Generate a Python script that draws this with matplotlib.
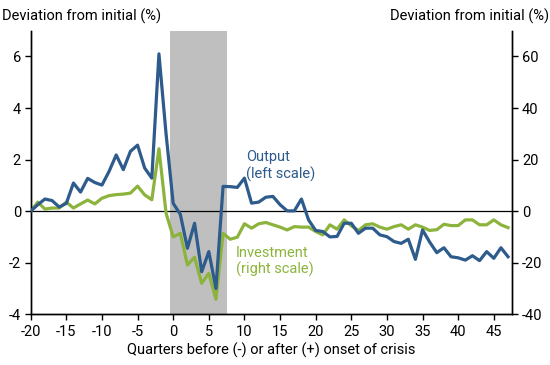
import matplotlib.pyplot as plt
import numpy as np

plt.rcParams["font.family"] = ["Roboto", "DejaVu Sans"]
plt.rcParams["axes.unicode_minus"] = False

quarters = list(range(-20, 48))

# output, percent deviation (left scale)
output = [
    0.0, 0.25, 0.47, 0.41, 0.16, 0.3, 1.09, 0.74, 1.27, 1.11,
    1.01, 1.54, 2.18, 1.61, 2.32, 2.56, 1.67, 1.28, 6.1, 3.0,
    0.3, -0.12, -1.44, -0.47, -2.35, -1.57, -3.0, 0.96, 0.95, 0.92,
    1.28, 0.31, 0.35, 0.54, 0.57, 0.25, 0.01, 0.01, 0.47, -0.34,
    -0.75, -0.79, -1.0, -0.98, -0.47, -0.47, -0.86, -0.66, -0.66, -0.92,
    -0.99, -1.18, -1.25, -1.09, -1.87, -0.73, -1.2, -1.61, -1.42, -1.77,
    -1.81, -1.9, -1.73, -1.92, -1.57, -1.83, -1.42, -1.77,
]

# investment, percent deviation (right scale)
investment = [
    0.0, 3.5, 0.8, 1.2, 1.2, 3.5, 1.2, 2.8, 4.3, 2.8,
    5.0, 6.0, 6.4, 6.6, 7.0, 9.7, 6.3, 4.4, 24.2, -0.8,
    -10.0, -8.6, -20.9, -17.9, -28.0, -24.1, -34.2, -8.6, -10.9, -10.1,
    -4.9, -6.6, -4.9, -4.4, -5.3, -6.2, -7.3, -6.0, -6.2, -6.2,
    -7.9, -9.2, -5.3, -7.0, -3.4, -5.7, -7.5, -5.3, -4.9, -6.2,
    -7.0, -6.0, -5.3, -7.0, -5.3, -6.2, -7.5, -7.2, -5.1, -5.6,
    -5.6, -3.4, -3.4, -5.3, -5.3, -3.4, -5.3, -6.4,
]

crisis_start, crisis_end = -0.5, 7.5

blue = "#2d5b8c"
green = "#8cb43c"

fig = plt.figure(figsize=(5.5, 3.65), dpi=100)
ax = fig.add_axes([0.0558, 0.139, 0.8757, 0.777])
ax2 = ax.twinx()

# shading and zero line go on the lower (right) axes so both lines sit above them
ax2.axvspan(crisis_start, crisis_end, color="#bfbfbf", lw=0, zorder=0)
ax2.axhline(0, color="black", lw=0.9, zorder=1)

ax2.plot(quarters, investment, color=green, lw=2.3, zorder=2)
ax.plot(quarters, output, color=blue, lw=2.3, zorder=3)
ax.set_zorder(ax2.get_zorder() + 1)
ax.patch.set_visible(False)

ax.set_xlim(-20, 47.6)
ax.set_ylim(-4, 7)
ax2.set_ylim(-40, 70)
ax.set_xticks(np.arange(-20, 50, 5))
ax.set_yticks([-4, -2, 0, 2, 4, 6])
ax2.set_yticks([-40, -20, 0, 20, 40, 60])

for a in (ax, ax2):
    a.spines["top"].set_visible(False)
    for s in a.spines.values():
        s.set_linewidth(1.0)
    a.tick_params(labelsize=10.5, length=4, width=1.0, direction="out", colors="black")
ax.tick_params(axis="y", pad=3)
ax2.tick_params(axis="y", pad=3)

ax.set_xlabel("Quarters before (-) or after (+) onset of crisis", fontsize=10.5, labelpad=3)
fig.text(0.004, 0.955, "Deviation from initial (%)", fontsize=10.5, ha="left", va="center")
fig.text(0.998, 0.955, "Deviation from initial (%)", fontsize=10.5, ha="right", va="center")

ax.text(10.2, 1.75, "Output\n(left scale)", color=blue, fontsize=10.5, va="center",
        linespacing=1.15)
ax.text(8.8, -1.95, "Investment\n(right scale)", color=green, fontsize=10.5, va="center",
        linespacing=1.15)

fig.savefig("out.png", dpi=100)
